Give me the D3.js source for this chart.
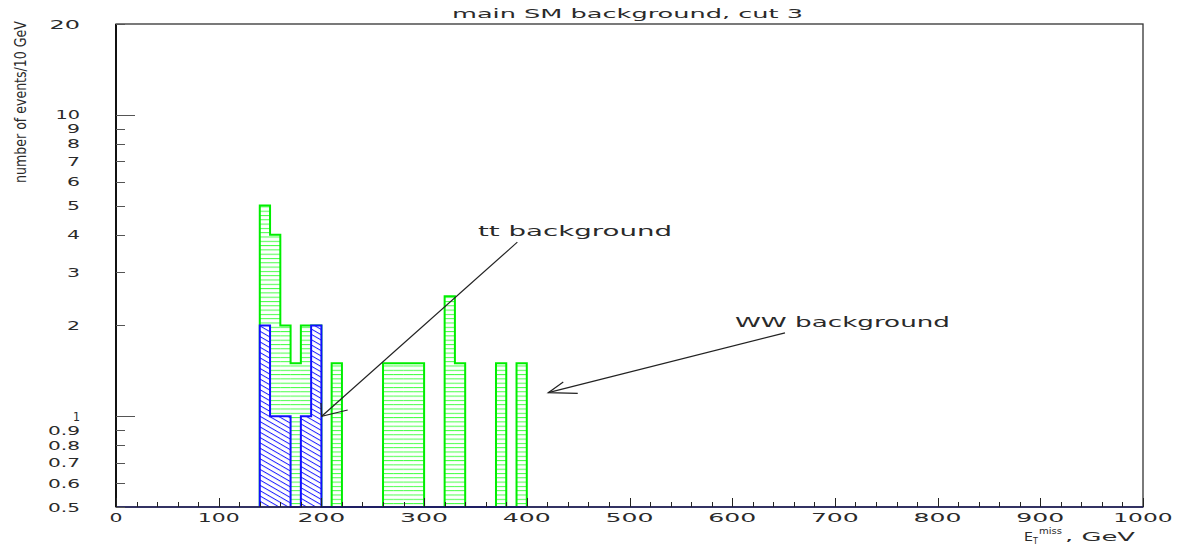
<!DOCTYPE html>
<html>
<head>
<meta charset="utf-8">
<script src="https://cdn.jsdelivr.net/npm/d3@7/dist/d3.min.js"></script>
<style>
  body { margin: 0; background: #fff; }
  text { font-family: "DejaVu Sans", sans-serif; fill: #2a2a2a; }
</style>
</head>
<body>
<script>
// lower edges of the 10 GeV bins that hold events
const binEdges = [140, 150, 160, 170, 180, 190, 200, 210, 220, 230, 240, 250, 260,
                  270, 280, 290, 300, 310, 320, 330, 340, 350, 360, 370, 380, 390];
// all SM background (green) and tt background (blue), events / 10 GeV
const totalCounts = [5, 4, 2, 1.5, 2, 2, 0, 1.5, 0, 0, 0, 0, 1.5,
                     1.5, 1.5, 1.5, 0, 0, 2.5, 1.5, 0, 0, 0, 1.5, 0, 1.5];
const ttCounts = [2, 1, 1, 0, 1, 2, 0, 0, 0, 0, 0, 0, 0,
                  0, 0, 0, 0, 0, 0, 0, 0, 0, 0, 0, 0, 0];

const xTickValues = [0, 100, 200, 300, 400, 500, 600, 700, 800, 900, 1000];
const xTickLabels = ["0", "100", "200", "300", "400", "500", "600", "700", "800", "900", "1000"];
const yTickValues = [0.5, 0.6, 0.7, 0.8, 0.9, 1, 2, 3, 4, 5, 6, 7, 8, 9, 10, 20];
const yTickLabels = ["0.5", "0.6", "0.7", "0.8", "0.9", "1", "2", "3", "4", "5", "6", "7", "8", "9", "10", "20"];

// annotations, in (GeV, events) coordinates
const ttArrowLine = [[390.8, 3.78], [200.3, 1.0]];
const ttArrowHead = [[199.6, 1.106], [200.3, 1.0], [225.6, 1.049]];
const ttLabelPos = [352.5, 3.96];
const wwArrowLine = [[651.4, 1.89], [420.9, 1.197]];
const wwArrowHead = [[435.5, 1.30], [420.9, 1.197], [449.6, 1.19]];
const wwLabelPos = [602.7, 1.98];

(function() {

  let svg = '';

  window.onload = function() {
    svg = d3.select('body')
      .append('svg')
      .attr('width', 1183)
      .attr('height', 548);

    let x = d3.scaleLinear().domain([0, 1000]).range([116, 1143]);
    let y = d3.scaleLog().domain([0.5, 20]).range([507, 24]);

    makePatterns();
    drawHist(totalCounts, x, y, 'url(#hatchGreen)', '#00ee00', false);
    drawHist(ttCounts, x, y, 'url(#hatchBlue)', '#1010ff', true);
    drawAxes(x, y);
    drawArrows(x, y);
    makeLabels(x, y);
  }

  function makePatterns() {
    let defs = svg.append('defs');

    let g = defs.append('pattern')
      .attr('id', 'hatchGreen')
      .attr('patternUnits', 'userSpaceOnUse')
      .attr('width', 10)
      .attr('height', 4.3);
    g.append('line')
      .attr('x1', 0).attr('x2', 10)
      .attr('y1', 0.5).attr('y2', 0.5)
      .attr('stroke', '#44ff44')
      .attr('stroke-width', 1);

    let b = defs.append('pattern')
      .attr('id', 'hatchBlue')
      .attr('patternUnits', 'userSpaceOnUse')
      .attr('width', 10)
      .attr('height', 4.6)
      .attr('patternTransform', 'rotate(30)');
    b.append('line')
      .attr('x1', 0).attr('x2', 10)
      .attr('y1', 0.5).attr('y2', 0.5)
      .attr('stroke', '#2020ff')
      .attr('stroke-width', 1);
  }

  // filled bins plus the step outline of one histogram
  function drawHist(counts, x, y, fill, stroke, opaque) {
    let yMin = y.domain()[0];
    let bins = binEdges.map((e, i) => ({x0: e, x1: e + 10, v: counts[i]}))
      .filter((d) => d.v > yMin);

    if (opaque) {
      svg.append('g').selectAll('rect')
        .data(bins)
        .enter()
        .append('rect')
          .attr('x', (d) => x(d.x0))
          .attr('y', (d) => y(d.v))
          .attr('width', (d) => x(d.x1) - x(d.x0))
          .attr('height', (d) => y(yMin) - y(d.v))
          .attr('fill', '#fff');
    }

    svg.append('g').selectAll('rect')
      .data(bins)
      .enter()
      .append('rect')
        .attr('x', (d) => x(d.x0))
        .attr('y', (d) => y(d.v))
        .attr('width', (d) => x(d.x1) - x(d.x0))
        .attr('height', (d) => y(yMin) - y(d.v))
        .attr('fill', fill);

    let pts = [];
    binEdges.forEach((e, i) => {
      let v = Math.max(counts[i], yMin);
      pts.push([e, v]);
      pts.push([e + 10, v]);
    });
    pts.unshift([binEdges[0], yMin]);
    pts.push([binEdges[binEdges.length - 1] + 10, yMin]);

    let line = d3.line()
      .x((d) => x(d[0]))
      .y((d) => y(d[1]));

    svg.append('path')
      .datum(pts)
      .attr('fill', 'none')
      .attr('stroke', stroke)
      .attr('stroke-width', 2)
      .attr('d', line);
  }

  // rough width of the wide axis font, used as textLength
  function labelWidth(s) {
    let w = 0;
    for (let i = 0; i < s.length; i++) {
      let c = s[i];
      w += c == '1' ? 7 : (c == '.' ? 3 : 13);
      if (i > 0) w += (c == '.' || s[i - 1] == '.') ? 1.5 : 4.5;
    }
    return w;
  }

  function drawAxes(x, y) {
    let x0 = x.range()[0], x1 = x.range()[1];
    let yb = y.range()[0], yt = y.range()[1];

    // frame
    svg.append('rect')
      .attr('x', x0).attr('y', yt)
      .attr('width', x1 - x0).attr('height', yb - yt)
      .attr('fill', 'none')
      .attr('stroke', '#333')
      .attr('stroke-width', 1.3);
    svg.append('line')
      .attr('x1', x0).attr('x2', x0)
      .attr('y1', yt).attr('y2', yb)
      .attr('stroke', '#111')
      .attr('stroke-width', 2);
    svg.append('line')
      .attr('x1', x0).attr('x2', x1)
      .attr('y1', yb).attr('y2', yb)
      .attr('stroke', '#1c1c5c')
      .attr('stroke-width', 1.5);

    // x ticks: major each 100, minor each 20
    let minor = d3.range(0, 1001, 20).filter((v) => v % 100 != 0);
    svg.append('g').selectAll('line')
      .data(minor)
      .enter()
      .append('line')
        .attr('x1', (d) => Math.round(x(d)) + 0.5)
        .attr('x2', (d) => Math.round(x(d)) + 0.5)
        .attr('y1', yb).attr('y2', yb - 5)
        .attr('stroke', '#222');
    svg.append('g').selectAll('line')
      .data(xTickValues)
      .enter()
      .append('line')
        .attr('x1', (d) => Math.round(x(d)) + 0.5)
        .attr('x2', (d) => Math.round(x(d)) + 0.5)
        .attr('y1', yb).attr('y2', yb - 9)
        .attr('stroke', '#222');
    svg.append('g').selectAll('text')
      .data(xTickValues)
      .enter()
      .append('text')
        .attr('x', (d) => x(d))
        .attr('y', 522)
        .attr('text-anchor', 'middle')
        .style('font-size', '13px')
        .attr('textLength', (d, i) => labelWidth(xTickLabels[i]))
        .attr('lengthAdjust', 'spacingAndGlyphs')
        .text((d, i) => xTickLabels[i]);

    // y ticks
    svg.append('g').selectAll('line')
      .data(yTickValues)
      .enter()
      .append('line')
        .attr('x1', x0)
        .attr('x2', (d) => (d == 1 || d == 10) ? x0 + 19 : x0 + 9)
        .attr('y1', (d) => Math.round(y(d)) + 0.5)
        .attr('y2', (d) => Math.round(y(d)) + 0.5)
        .attr('stroke', '#555');
    svg.append('g').selectAll('text')
      .data(yTickValues)
      .enter()
      .append('text')
        .attr('x', 80)
        .attr('y', (d) => y(d) + 4.5)
        .attr('text-anchor', 'end')
        .style('font-size', '13px')
        .attr('textLength', (d, i) => labelWidth(yTickLabels[i]))
        .attr('lengthAdjust', 'spacingAndGlyphs')
        .text((d, i) => yTickLabels[i]);
  }

  function drawArrows(x, y) {
    let line = d3.line()
      .x((d) => x(d[0]))
      .y((d) => y(d[1]));

    [ttArrowLine, ttArrowHead, wwArrowLine, wwArrowHead].forEach((pts) => {
      svg.append('path')
        .datum(pts)
        .attr('fill', 'none')
        .attr('stroke', '#222')
        .attr('stroke-width', 1.2)
        .attr('d', line);
    });

    svg.append('text')
      .attr('x', x(ttLabelPos[0]))
      .attr('y', y(ttLabelPos[1]))
      .style('font-size', '14px')
      .attr('textLength', 194)
      .attr('lengthAdjust', 'spacingAndGlyphs')
      .text('tt background');

    svg.append('text')
      .attr('x', x(wwLabelPos[0]))
      .attr('y', y(wwLabelPos[1]))
      .style('font-size', '14px')
      .attr('textLength', 215)
      .attr('lengthAdjust', 'spacingAndGlyphs')
      .text('WW background');
  }

  // title and axis titles
  function makeLabels(x, y) {
    svg.append('text')
      .attr('x', 452)
      .attr('y', 18)
      .style('font-size', '13px')
      .attr('textLength', 351)
      .attr('lengthAdjust', 'spacingAndGlyphs')
      .text('main SM background, cut 3');

    // narrow y title: squeeze the measured text to the reference length
    let yt = svg.append('text')
      .attr('text-anchor', 'middle')
      .style('font-size', '16px')
      .text('number of events/10 GeV');
    let natural = yt.node().getComputedTextLength();
    yt.attr('transform', 'translate(26, 102)rotate(-90)scale(' + (162 / natural) + ', 1)');

    let t = svg.append('text')
      .attr('y', 541)
      .style('font-size', '13px');
    t.append('tspan').attr('x', 1024).text('E')
      .attr('textLength', 9).attr('lengthAdjust', 'spacingAndGlyphs');
    t.append('tspan').attr('x', 1033).attr('dy', 3).style('font-size', '8px').text('T');
    t.append('tspan').attr('x', 1039).attr('dy', -10).style('font-size', '9px').text('miss')
      .attr('textLength', 23).attr('lengthAdjust', 'spacingAndGlyphs');
    t.append('tspan').attr('x', 1065).attr('dy', 7).text(', GeV')
      .attr('textLength', 70).attr('lengthAdjust', 'spacingAndGlyphs');
  }

})();
</script>
</body>
</html>
